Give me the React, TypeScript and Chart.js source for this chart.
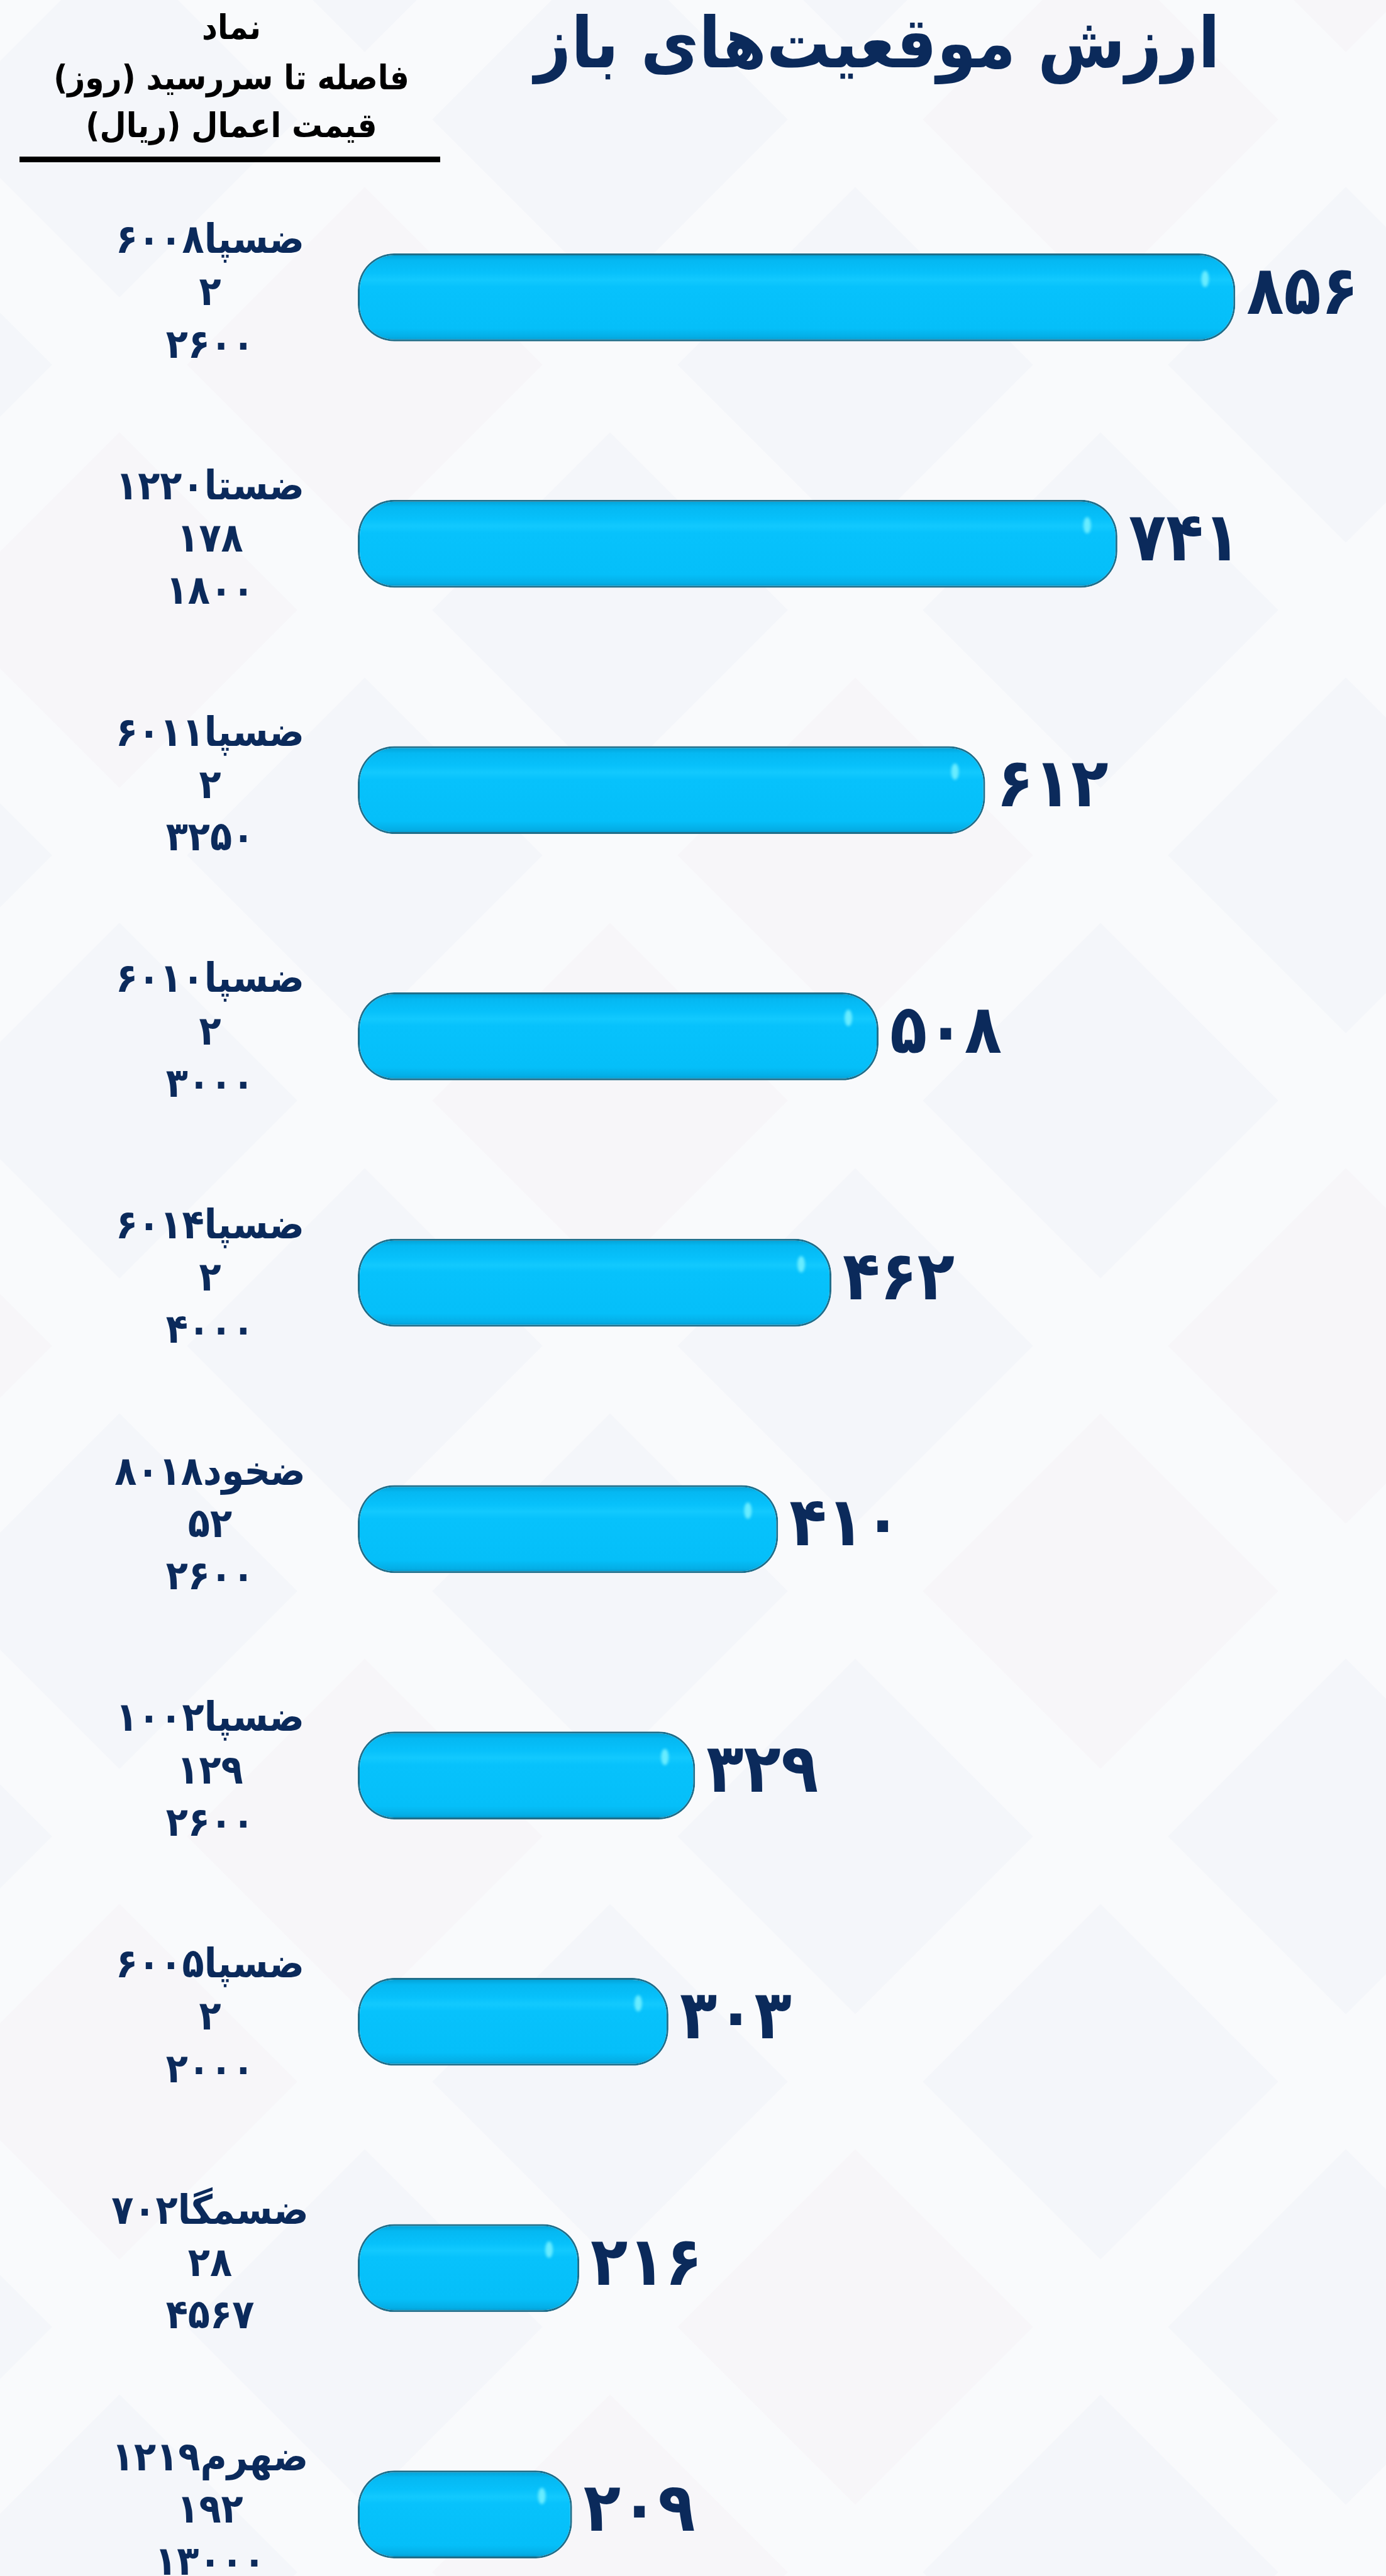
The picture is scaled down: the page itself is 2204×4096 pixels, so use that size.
import React, { useEffect, useRef } from 'react';
import { Chart, registerables } from 'chart.js';

Chart.register(...registerables);

// ---- data ----
const chartTitle = 'ارزش موقعیت‌های باز';
const headerLines = ['نماد', 'فاصله تا سررسید (روز)', 'قیمت اعمال (ریال)'];
const symbols = ['ضسپا۶۰۰۸', 'ضستا۱۲۲۰', 'ضسپا۶۰۱۱', 'ضسپا۶۰۱۰', 'ضسپا۶۰۱۴', 'ضخود۸۰۱۸', 'ضسپا۱۰۰۲', 'ضسپا۶۰۰۵', 'ضسمگا۷۰۲', 'ضهرم۱۲۱۹'];
const daysToMaturity = [2, 178, 2, 2, 2, 52, 129, 2, 28, 192];
const strikePrices = [2600, 1800, 3250, 3000, 4000, 2600, 2600, 2000, 4567, 13000];
const openValues = [856, 741, 612, 508, 462, 410, 329, 303, 216, 209];

const toFa = (n: number | string) => String(n).replace(/\d/g, (d) => '۰۱۲۳۴۵۶۷۸۹'[+d]);

const W = 2204;
const H = 4394;
const VIEW_H = 4096;
const NAVY = '#0B2A5B';
const FONT = "'DejaVu Sans Condensed', 'DejaVu Sans', sans-serif";
const Y_AXIS_W = 569;
const LABEL_CENTER_X = 342;
const TICK_FONT_SIZE = 64;

export default function App() {
  const ref = useRef<HTMLCanvasElement | null>(null);

  useEffect(() => {
    const canvas = ref.current;
    if (!canvas) return;
    const labels = symbols.map((s, i) => [s, toFa(daysToMaturity[i]), toFa(strikePrices[i])]);

    const mctx = canvas.getContext('2d')!;
    mctx.font = `bold ${TICK_FONT_SIZE}px ${FONT}`;
    let widest = 0;
    labels.forEach((l) => l.forEach((t) => { widest = Math.max(widest, mctx.measureText(t).width); }));
    const tickPadding = Math.max(0, Y_AXIS_W - LABEL_CENTER_X - widest / 2);

    const decoPlugin = {
      id: 'deco',
      beforeDraw(chart: any) {
        const c = chart.ctx;
        c.save();
        c.fillStyle = '#F9FAFC';
        c.fillRect(0, 0, chart.width, chart.height);
        const size = 400;
        const step = 780;
        let k = 0;
        for (let yy = -200; yy < chart.height + 400; yy += step / 2) {
          const off = (Math.round((yy + 200) / (step / 2)) % 2) * (step / 2);
          for (let xx = -200 + off; xx < chart.width + 400; xx += step) {
            c.save();
            c.translate(xx, yy);
            c.rotate(Math.PI / 4);
            c.fillStyle = k % 3 === 0 ? 'rgba(244,236,242,0.28)' : 'rgba(232,237,245,0.28)';
            c.fillRect(-size / 2, -size / 2, size, size);
            c.restore();
            k++;
          }
        }
        c.restore();
      },
      afterDraw(chart: any) {
        const c = chart.ctx;
        c.save();
        c.direction = 'rtl';
        c.textAlign = 'center';
        c.textBaseline = 'middle';
        c.fillStyle = NAVY;
        c.font = `bold 112px ${FONT}`;
        c.fillText(chartTitle, 1395, 78);
        c.fillStyle = '#000000';
        c.font = `bold 54px ${FONT}`;
        const hy = [48, 128, 204];
        headerLines.forEach((t, i) => c.fillText(t, 368, hy[i]));
        c.fillRect(31, 249, 669, 9);
        c.restore();
      },
      afterDatasetsDraw(chart: any) {
        const c = chart.ctx;
        const meta = chart.getDatasetMeta(0);
        c.save();
        meta.data.forEach((el: any, i: number) => {
          const h = el.height;
          c.save();
          c.filter = 'blur(2px)';
          c.fillStyle = 'rgba(110,238,255,0.95)';
          c.beginPath();
          c.ellipse(el.x - 48, el.y - h * 0.21, 6, 13, 0, 0, Math.PI * 2);
          c.fill();
          c.restore();
          c.fillStyle = NAVY;
          c.font = `bold 108px ${FONT}`;
          c.textAlign = 'left';
          c.textBaseline = 'middle';
          c.fillText(toFa(openValues[i]), el.x + 18, el.y - 2);
        });
        c.restore();
      },
    };

    const barFill = (context: any) => {
      const chart = context.chart;
      const yScale = chart.scales && chart.scales.y;
      if (!yScale || context.dataIndex === undefined) return '#06C0FB';
      const yc = yScale.getPixelForValue(context.dataIndex);
      if (!Number.isFinite(yc)) return '#06C0FB';
      const half = 70;
      const g = chart.ctx.createLinearGradient(0, yc - half, 0, yc + half);
      g.addColorStop(0, '#039DD0');
      g.addColorStop(0.08, '#05B8F2');
      g.addColorStop(0.22, '#07C1FB');
      g.addColorStop(0.3, '#12C9FE');
      g.addColorStop(0.38, '#07C2FC');
      g.addColorStop(0.85, '#05BFF9');
      g.addColorStop(0.95, '#04AEE6');
      g.addColorStop(1, '#0392C4');
      return g;
    };

    const r = 58;
    const chart = new Chart(canvas, {
      type: 'bar',
      data: {
        labels,
        datasets: [
          {
            data: openValues,
            backgroundColor: barFill,
            borderColor: '#1F6E8A',
            borderWidth: 3,
            borderSkipped: false,
            borderRadius: { topLeft: r, topRight: r, bottomLeft: r, bottomRight: r },
            barPercentage: 0.3567,
            categoryPercentage: 1,
          },
        ],
      },
      options: {
        indexAxis: 'y',
        responsive: false,
        maintainAspectRatio: false,
        animation: false,
        devicePixelRatio: 1,
        layout: { padding: { top: 277, bottom: 200, left: 0, right: 5 } },
        scales: {
          x: { display: false, min: 0, max: 1000 },
          y: {
            grid: { display: false },
            border: { display: false },
            ticks: {
              color: NAVY,
              font: { family: FONT, size: TICK_FONT_SIZE, weight: 'bold', lineHeight: 1.3 },
              crossAlign: 'center',
              padding: tickPadding,
              labelOffset: -4,
              autoSkip: false,
            },
            afterFit: (s: any) => {
              s.width = Y_AXIS_W;
            },
          },
        },
        plugins: {
          legend: { display: false },
          tooltip: { enabled: false },
          title: { display: false },
        },
      },
      plugins: [decoPlugin],
    } as any);

    return () => chart.destroy();
  }, []);

  return (
    <div style={{ position: 'absolute', left: 0, top: 0, width: W, height: VIEW_H, overflow: 'hidden', background: '#F9FAFC' }}>
      <canvas ref={ref} width={W} height={H} style={{ display: 'block', width: W, height: H }} />
    </div>
  );
}
